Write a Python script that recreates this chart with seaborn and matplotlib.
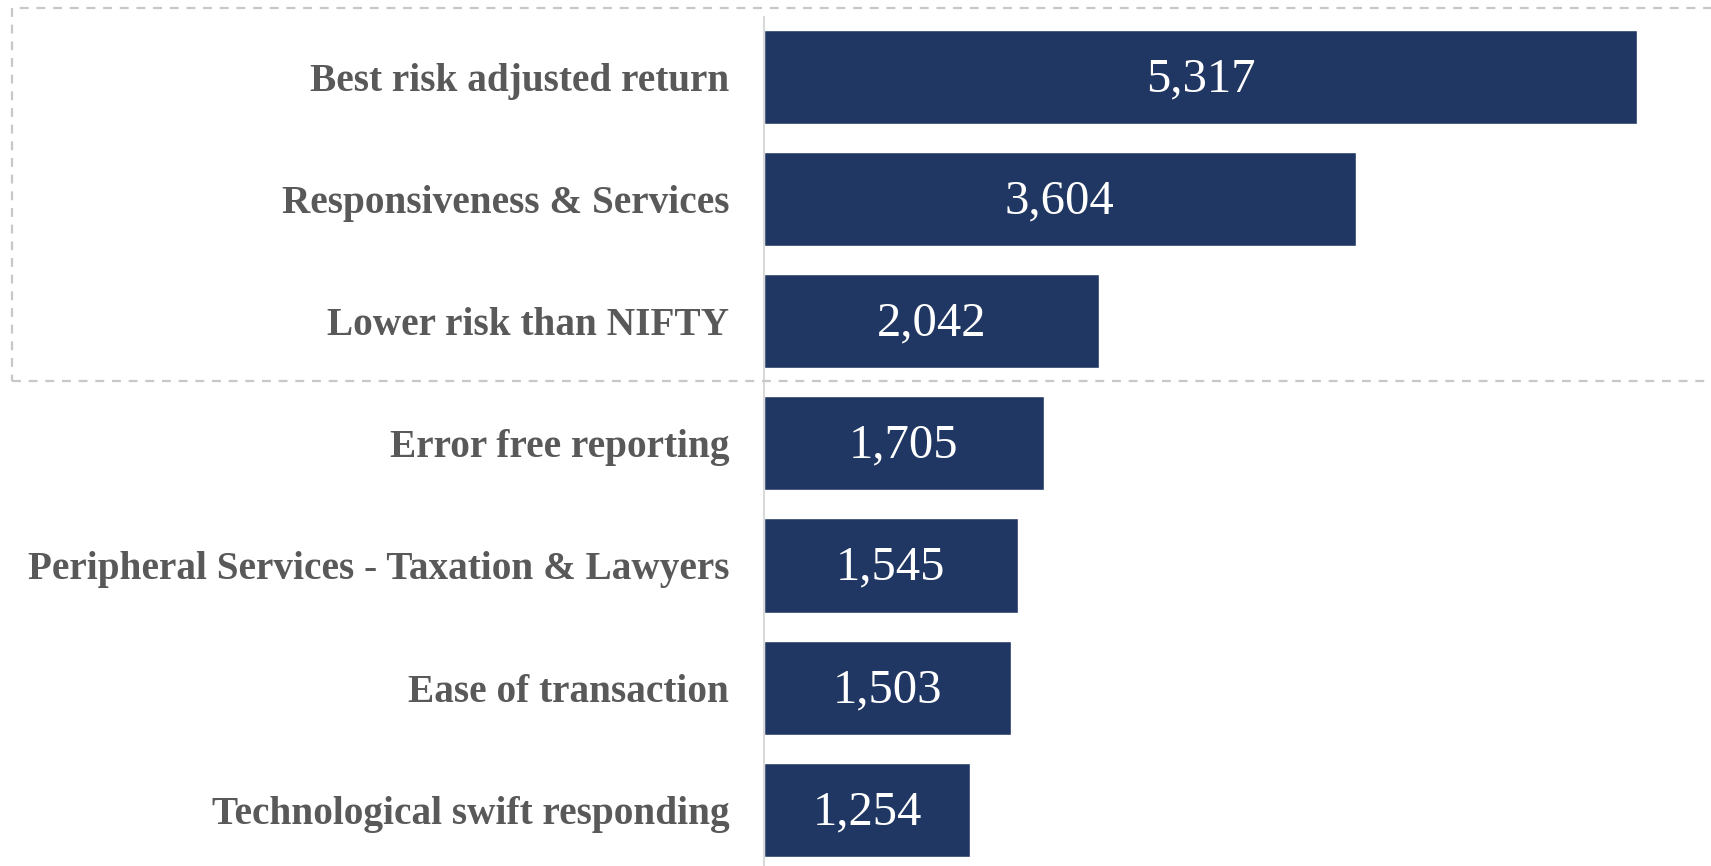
import matplotlib.pyplot as plt
import pandas as pd
import seaborn as sns
from matplotlib.patches import Rectangle

# Data
factors = ['Best risk adjusted return', 'Responsiveness & Services', 'Lower risk than NIFTY',
           'Error free reporting', 'Peripheral Services - Taxation & Lawyers',
           'Ease of transaction', 'Technological swift responding']
counts = [5317, 3604, 2042, 1705, 1545, 1503, 1254]

df = pd.DataFrame({'factor': factors, 'count': counts})

sns.set_theme(style='white')
plt.rcParams['font.family'] = ['Liberation Serif', 'DejaVu Serif']

W, H = 1711, 866
fig = plt.figure(figsize=(W / 100, H / 100), dpi=100)
ax = fig.add_axes([764 / W, 0, (W - 764) / W, (H - 17) / H])

sns.barplot(data=df, x='count', y='factor', color='#213763', width=0.77,
            saturation=1, ax=ax, orient='h')

ax.set_xlim(0, 5317 * (W - 764) / 873)
ax.set_ylim(6.46, -0.49)
ax.set_xlabel('')
ax.set_ylabel('')
ax.set_xticks([])
for s in ['top', 'right', 'bottom']:
    ax.spines[s].set_visible(False)
ax.spines['left'].set_color('#d9d9d9')
ax.spines['left'].set_linewidth(1.5)
ax.tick_params(axis='y', length=0, pad=25)
for lbl in ax.get_yticklabels():
    lbl.set_fontsize(28.3)
    lbl.set_fontweight('bold')
    lbl.set_color('#595959')

# value labels
for p, v in zip(ax.patches, counts):
    ax.text(p.get_x() + p.get_width() / 2, p.get_y() + p.get_height() / 2 + 0.02, f'{v:,}',
            ha='center', va='center', color='white', fontsize=35)

# dashed highlight box around top three
box = Rectangle((12 / W, 1 - 381 / H), 1.0, (381 - 8) / H, transform=fig.transFigure,
                fill=False, edgecolor='#c8c8c8', linestyle=(0, (4, 3.5)), linewidth=1.6,
                clip_on=False)
fig.add_artist(box)

fig.savefig('out.png', dpi=100)
